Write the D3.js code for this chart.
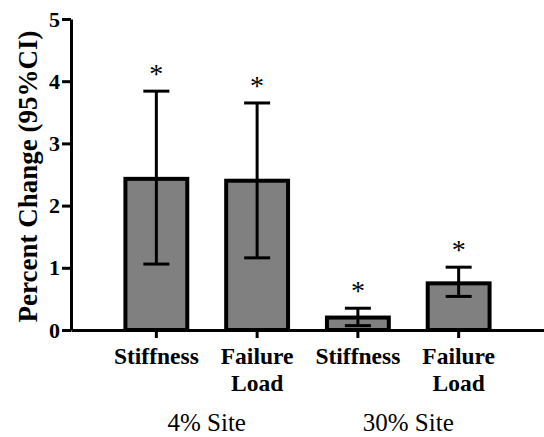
<!DOCTYPE html>
<html>
<head>
<meta charset="utf-8">
<script src="https://cdn.jsdelivr.net/npm/d3@7"></script>
<style>
  body { margin: 0; background: #fff; }
</style>
</head>
<body>
<div id="chart"></div>
<script>
// data
const categories = ["4-stiff", "4-fail", "30-stiff", "30-fail"];
const catLabels = [["Stiffness"], ["Failure", "Load"], ["Stiffness"], ["Failure", "Load"]];
const means = [2.43, 2.40, 0.20, 0.75];
const ciLow = [1.06, 1.16, 0.07, 0.54];
const ciHigh = [3.84, 3.65, 0.35, 1.01];
const groups = ["4% Site", "30% Site"];
const groupMembers = [["4-stiff", "4-fail"], ["30-stiff", "30-fail"]];
const yTicks = [0, 1, 2, 3, 4, 5];

const W = 544, H = 437;
const margin = { top: 19, right: 0, bottom: 107, left: 71 };
const height = H - margin.top - margin.bottom;
const serif = "'Liberation Serif'";

const svg = d3.select("#chart").append("svg")
    .attr("width", W)
    .attr("height", H);

const x = d3.scaleBand()
    .domain(categories)
    .range([margin.left, W - margin.right])
    .paddingInner(0.386)
    .paddingOuter(0.54);

const y = d3.scaleLinear()
    .domain([0, 5])
    .range([margin.top + height, margin.top]);

const data = categories.map((c, i) => ({ key: c, mean: means[i], lo: ciLow[i], hi: ciHigh[i], label: catLabels[i] }));

// bars
svg.selectAll(".bar")
    .data(data)
    .join("rect")
    .attr("class", "bar")
    .attr("x", d => x(d.key))
    .attr("y", d => y(d.mean))
    .attr("width", x.bandwidth())
    .attr("height", d => y(0) - y(d.mean))
    .attr("fill", "#808080")
    .attr("stroke", "#000")
    .attr("stroke-width", 4);

// error bars
const cx = d => x(d.key) + x.bandwidth() / 2;
const capW = 13;
const err = svg.selectAll(".err").data(data).join("g").attr("class", "err")
    .attr("stroke", "#000").attr("stroke-width", 3);
err.append("line").attr("x1", cx).attr("x2", cx).attr("y1", d => y(d.lo)).attr("y2", d => y(d.hi));
err.append("line").attr("x1", d => cx(d) - capW).attr("x2", d => cx(d) + capW).attr("y1", d => y(d.hi)).attr("y2", d => y(d.hi));
err.append("line").attr("x1", d => cx(d) - capW).attr("x2", d => cx(d) + capW).attr("y1", d => y(d.lo)).attr("y2", d => y(d.lo));

// significance stars
svg.selectAll(".star").data(data).join("text")
    .attr("class", "star")
    .attr("x", cx)
    .attr("y", d => y(d.hi) - 8)
    .attr("text-anchor", "middle")
    .style("font-family", serif)
    .style("font-size", "28px")
    .text("*");

// axes
const yAxis = svg.append("g")
    .attr("transform", `translate(${margin.left},0)`)
    .call(d3.axisLeft(y).tickValues(yTicks).tickFormat(d3.format("d")).tickSize(9).tickSizeOuter(0).tickPadding(2));
yAxis.selectAll("path, line").attr("stroke", "#000").attr("stroke-width", 3);
yAxis.selectAll("text")
    .style("font-family", serif)
    .style("font-size", "22px")
    .style("font-weight", "bold")
    .attr("fill", "#000");

const xAxis = svg.append("g")
    .attr("transform", `translate(0,${y(0)})`)
    .call(d3.axisBottom(x).tickSize(8).tickSizeOuter(0).tickFormat(""));
xAxis.selectAll("path, line").attr("stroke", "#000").attr("stroke-width", 3);

// category labels
const lab = svg.selectAll(".catlab").data(data).join("text")
    .attr("class", "catlab")
    .attr("text-anchor", "middle")
    .style("font-family", serif)
    .style("font-size", "23.5px")
    .style("font-weight", "bold");
lab.selectAll("tspan").data(d => d.label.map(t => ({ t, c: cx(d) }))).join("tspan")
    .attr("x", d => d.c)
    .attr("y", (d, i) => y(0) + 34 + i * 26.5)
    .text(d => d.t);

// group labels
svg.selectAll(".grp").data(groups).join("text")
    .attr("class", "grp")
    .attr("x", (g, i) => d3.mean(groupMembers[i], k => x(k) + x.bandwidth() / 2))
    .attr("y", y(0) + 101)
    .attr("text-anchor", "middle")
    .style("font-family", serif)
    .style("font-size", "25px")
    .text(g => g);

// y title
svg.append("text")
    .attr("transform", `translate(37,${(y(0) + y(5)) / 2 + 2}) rotate(-90)`)
    .attr("text-anchor", "middle")
    .style("font-family", serif)
    .style("font-size", "27px")
    .style("font-weight", "bold")
    .text("Percent Change (95%CI)");
</script>
</body>
</html>
